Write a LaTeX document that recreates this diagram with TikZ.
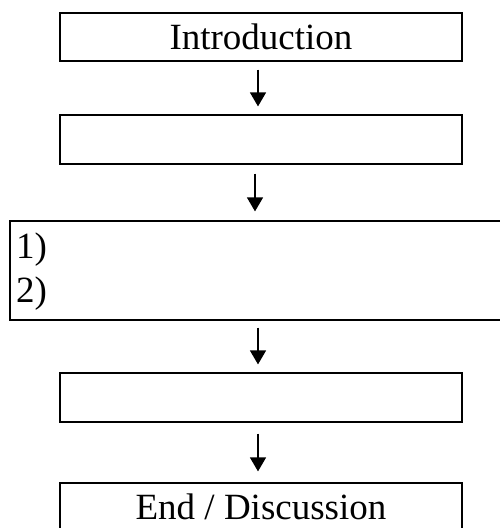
\documentclass[tikz,border=0pt]{standalone}
\usepackage{fontspec}
\setmainfont{Liberation Serif}
\usetikzlibrary{arrows.meta}
\begin{document}
\begin{tikzpicture}[x=1pt,y=-1pt,
  box/.style={draw, line width=1.2pt, minimum width=402pt, inner sep=0pt, text height=25pt, text depth=0pt, font=\fontsize{37}{44}\selectfont},
  lbl/.style={inner sep=0pt, anchor=base west, font=\fontsize{37}{44}\selectfont},
  arr/.style={line width=1.3pt, -{Triangle[width=16pt,length=14pt]}}]
\useasboundingbox (0,0) rectangle (500,528);
\clip (0,0) rectangle (500,528);
\node[box, minimum height=48pt] (b1) at (261,37) {Introduction};
\node[box, minimum height=49pt] (b2) at (261,139.5) {};
\node[box, minimum height=99pt, minimum width=520pt] (b3) at (270,270.5) {};
\node[lbl] (t1) at (16,258) {1)};
\node[lbl] (t2) at (16,302) {2)};
\node[box, minimum height=49pt] (b4) at (261,397.5) {};
\node[box, minimum height=48pt] (b5) at (261,507) {End / Discussion};
\draw[arr, shorten <=8pt, shorten >=8pt] ([xshift=-3pt]b1.south) -- ([xshift=-3pt]b2.north);
\draw[arr, shorten <=9pt, shorten >=9pt] ([xshift=-6pt]b2.south) -- ([xshift=-15pt]b3.north);
\draw[arr, shorten <=7pt, shorten >=8pt] ([xshift=-12pt]b3.south) -- ([xshift=-3pt]b4.north);
\draw[arr, shorten <=11pt, shorten >=11pt] ([xshift=-3pt]b4.south) -- ([xshift=-3pt]b5.north);
\end{tikzpicture}
\end{document}
